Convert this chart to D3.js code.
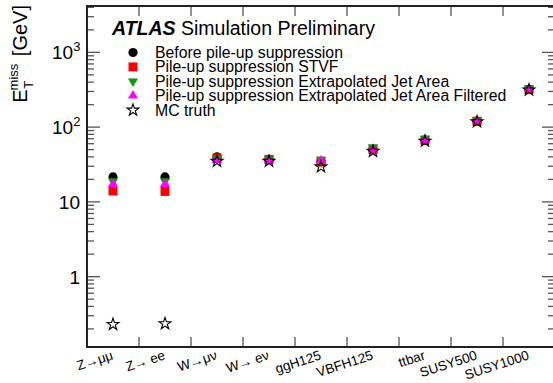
<!DOCTYPE html>
<html>
<head>
<meta charset="utf-8">
<script src="https://d3js.org/d3.v7.min.js"></script>
<style>
  body { margin: 0; background: #fff; }
  text { font-family: "Liberation Sans", Arial, sans-serif; }
</style>
</head>
<body>
<div id="chart"></div>
<script>
// samples on the x axis
var samples = ["Z\u2192\u03bc\u03bc", "Z\u2192 ee", "W\u2192\u03bc\u03bd", "W\u2192 e\u03bd",
               "ggH125", "VBFH125", "ttbar", "SUSY500", "SUSY1000"];

// mean E_T^miss [GeV] per sample
var beforePU   = [21.6, 21.6, 40, 37, 35, 50, 67, 120, 320];
var stvf       = [14.0, 13.8, 39, 37, 34, 50, 67, 120, 318];
var jetArea    = [19.0, 19.0, 38, 38, 37, 54, 70, 124, 325];
var jetAreaFlt = [17.3, 17.3, 36, 36, 35.5, 50, 67, 120, 320];
var mcTruth    = [0.23, 0.235, 35, 35, 29.5, 47.5, 65, 118, 315];

var legendLabels = ["Before pile-up suppression",
                    "Pile-up suppression STVF",
                    "Pile-up suppression Extrapolated Jet Area",
                    "Pile-up suppression Extrapolated Jet Area Filtered",
                    "MC truth"];

var W = 553, H = 383;
var padL = 87, padR = 555, padT = 6, padB = 347;

var svg = d3.select("#chart").append("svg")
    .attr("width", W)
    .attr("height", H);

var x = d3.scaleBand()
    .domain(samples)
    .range([padL, padR])
    .paddingInner(0).paddingOuter(0);

var y = d3.scaleLog()
    .domain([0.1146, 4170])
    .range([padB, padT]);

// y ticks (log, major + minor) on both sides
var majors = [1, 10, 100, 1000];
var minors = [];
[0.1, 1, 10, 100, 1000].forEach(function(d) {
  for (var k = 1; k <= 9; k++) {
    var v = d * k;
    if (v >= y.domain()[0] && v <= y.domain()[1] && majors.indexOf(v) < 0) minors.push(v);
  }
});

var ticks = svg.append("g").attr("stroke", "#555").attr("stroke-width", 1.3);

minors.forEach(function(v) {
  ticks.append("line").attr("x1", padL).attr("x2", padL + 7).attr("y1", y(v)).attr("y2", y(v));
  ticks.append("line").attr("x1", padR - 7).attr("x2", padR).attr("y1", y(v)).attr("y2", y(v));
});
majors.forEach(function(v) {
  ticks.append("line").attr("x1", padL).attr("x2", padL + 13).attr("y1", y(v)).attr("y2", y(v));
  ticks.append("line").attr("x1", padR - 13).attr("x2", padR).attr("y1", y(v)).attr("y2", y(v));
});

// x ticks at bin edges
samples.forEach(function(s, i) {
  if (i === 0) return;
  var xe = x(s);
  ticks.append("line").attr("x1", xe).attr("x2", xe).attr("y1", padB).attr("y2", padB - 10);
  ticks.append("line").attr("x1", xe).attr("x2", xe).attr("y1", padT).attr("y2", padT + 10);
});

// frame
svg.append("rect")
    .attr("x", padL).attr("y", padT)
    .attr("width", padR - padL).attr("height", padB - padT)
    .attr("fill", "none").attr("stroke", "#222").attr("stroke-width", 2);

// y tick labels
var ylab = svg.append("g").attr("font-size", 19).attr("fill", "#000");
ylab.append("text").attr("x", 80).attr("y", y(1) + 7).attr("text-anchor", "end").text("1");
ylab.append("text").attr("x", 80).attr("y", y(10) + 7).attr("text-anchor", "end").text("10");
[[100, "2"], [1000, "3"]].forEach(function(d) {
  var t = ylab.append("text").attr("x", 52).attr("y", y(d[0]) + 7);
  t.append("tspan").text("10");
  t.append("tspan").attr("font-size", 13).attr("dy", -8).text(d[1]);
});

// y axis title
var yt = svg.append("text")
    .attr("transform", "translate(27,5) rotate(-90)")
    .attr("text-anchor", "end")
    .attr("font-size", 20);
yt.append("tspan").text("E");
yt.append("tspan").attr("font-size", 13).attr("dx", -1).attr("dy", -9).text("miss");
yt.append("tspan").attr("font-size", 13).attr("dx", -25).attr("dy", 15).text("T");
yt.append("tspan").attr("dx", 19).attr("dy", -6).text(" [GeV]");

// x labels, slanted
samples.forEach(function(s) {
  var cx = x(s) + x.bandwidth() / 2;
  svg.append("text")
      .attr("transform", "translate(" + (cx + 1) + ",359) rotate(-18)")
      .attr("text-anchor", "end")
      .attr("font-size", 13.5)
      .text(s);
});

// markers
var series = [
  {vals: beforePU,   sym: d3.symbolCircle,   size: 66, fill: "#000",    rot: 0},
  {vals: stvf,       sym: d3.symbolSquare,   size: 80, fill: "#ff0000", rot: 0},
  {vals: jetArea,    sym: d3.symbolTriangle, size: 44, fill: "#119611", rot: 180},
  {vals: jetAreaFlt, sym: d3.symbolTriangle, size: 44, fill: "#ff00ff", rot: 0},
  {vals: mcTruth,    sym: d3.symbolStar,     size: 44, fill: "none",    rot: 0, stroke: "#000"}
];

series.forEach(function(se) {
  svg.append("g").selectAll("path")
    .data(se.vals)
    .enter().append("path")
      .attr("d", d3.symbol().type(se.sym).size(se.size))
      .attr("transform", function(d, i) {
        return "translate(" + (x(samples[i]) + x.bandwidth() / 2) + "," + y(d) + ") rotate(" + se.rot + ")";
      })
      .attr("fill", se.fill)
      .attr("stroke", se.stroke || "none")
      .attr("stroke-width", 1.1);
});

// header
var hd = svg.append("text").attr("x", 112).attr("y", 35).attr("font-size", 19.5);
hd.append("tspan").attr("font-weight", "bold").attr("font-style", "italic").text("ATLAS");
hd.append("tspan").text(" Simulation Preliminary");

// legend
var leg = svg.append("g");
var legY = 52.5, legStep = 14.4;
legendLabels.forEach(function(lbl, i) {
  var se = series[i];
  var yy = legY + i * legStep;
  leg.append("path")
      .attr("d", d3.symbol().type(se.sym).size(se.size))
      .attr("transform", "translate(133," + yy + ") rotate(" + se.rot + ")")
      .attr("fill", se.fill)
      .attr("stroke", se.stroke || "none")
      .attr("stroke-width", 1.1);
  leg.append("text")
      .attr("x", 155).attr("y", yy + 5.5)
      .attr("font-size", 15.8)
      .text(lbl);
});
</script>
</body>
</html>
